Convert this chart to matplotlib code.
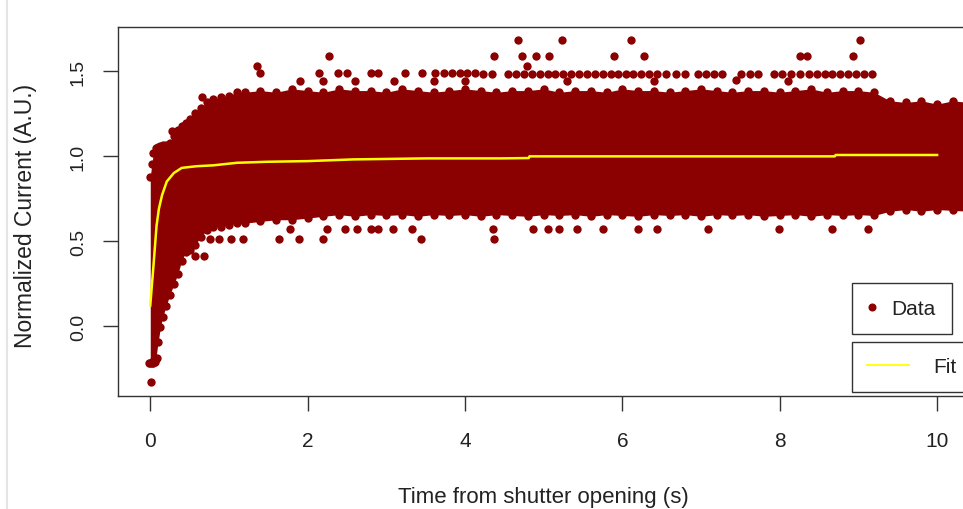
import matplotlib
matplotlib.use("Agg")
import matplotlib.pyplot as plt
from matplotlib.lines import Line2D

plt.rcParams['font.family'] = ['Liberation Sans', 'DejaVu Sans']

# ---------------- data ----------------
# dense band of data points: x, upper-edge point centres, lower-edge point centres
band_x = [0.00, 0.02, 0.04, 0.07, 0.10, 0.13, 0.16, 0.20, 0.25, 0.30, 0.35, 0.40,
          0.45, 0.50, 0.57, 0.64, 0.72, 0.80, 0.90, 1.00, 1.10,
          1.2, 1.4, 1.6, 1.8, 2.0, 2.2, 2.4, 2.6, 2.8, 3.0, 3.2, 3.4, 3.6, 3.8,
          4.0, 4.2, 4.4, 4.6, 4.8, 5.0, 5.2, 5.4, 5.6, 5.8, 6.0, 6.2, 6.4, 6.6,
          6.8, 7.0, 7.2, 7.4, 7.6, 7.8, 8.0, 8.2, 8.4, 8.6, 8.8, 9.0, 9.2,
          9.4, 9.6, 9.8, 10.0, 10.2, 10.4]
band_upper = [0.875, 0.955, 1.015, 1.045, 1.055, 1.06, 1.065, 1.065, 1.075, 1.115, 1.155, 1.175,
              1.195, 1.215, 1.255, 1.285, 1.315, 1.335, 1.345, 1.355, 1.375,
              1.375, 1.385, 1.375, 1.395, 1.385, 1.375, 1.395, 1.385, 1.385, 1.375, 1.395, 1.385, 1.375, 1.385,
              1.395, 1.385, 1.375, 1.385, 1.385, 1.395, 1.375, 1.385, 1.385, 1.375, 1.395, 1.385, 1.385, 1.375,
              1.385, 1.395, 1.385, 1.375, 1.385, 1.385, 1.375, 1.385, 1.395, 1.375, 1.385, 1.385, 1.375,
              1.325, 1.315, 1.325, 1.305, 1.325, 1.315]
band_lower = [-0.215, -0.215, -0.205, -0.195, -0.095, -0.005, 0.055, 0.115, 0.185, 0.245, 0.305, 0.385,
              0.435, 0.445, 0.475, 0.525, 0.565, 0.585, 0.585, 0.595, 0.605,
              0.605, 0.615, 0.625, 0.625, 0.635, 0.645, 0.655, 0.645, 0.655, 0.650, 0.655, 0.645, 0.655, 0.650,
              0.655, 0.645, 0.655, 0.650, 0.645, 0.655, 0.650, 0.655, 0.645, 0.655, 0.650, 0.645, 0.655, 0.650,
              0.655, 0.645, 0.655, 0.650, 0.655, 0.645, 0.650, 0.655, 0.645, 0.655, 0.650, 0.655, 0.650,
              0.675, 0.685, 0.675, 0.685, 0.680, 0.675]

# isolated points outside the dense band
out_x = [0.27, 0.66, 1.36, 1.40, 2.27,
         1.90, 2.20, 2.60, 3.10, 3.60, 4.00, 5.30, 6.40, 7.45, 8.10,
         2.14, 2.39, 2.50, 2.80, 2.90, 3.24, 3.46, 3.62, 3.73, 3.83, 3.94, 4.02, 4.13,
         4.23, 4.34, 4.55, 4.65, 4.75, 4.85, 4.95, 5.05, 5.15, 5.25, 5.35, 5.45,
         5.55, 5.65, 5.75, 5.85, 5.95, 6.05, 6.14, 6.24, 6.34, 6.44, 6.55, 6.68,
         6.80, 6.96, 7.06, 7.16, 7.27, 7.51, 7.62, 7.72, 7.93, 8.03, 8.14, 8.26,
         8.37, 8.47, 8.57, 8.67, 8.77, 8.87, 8.97, 9.07, 9.17,
         4.37, 4.73, 4.90, 5.07, 5.90, 6.27, 8.26, 8.35, 8.93, 4.79,
         4.68, 5.23, 6.11, 9.02,
         0.57, 0.68,
         0.76, 0.87, 1.03, 1.18, 1.63, 1.89, 2.20, 3.44, 4.37,
         1.78, 2.25, 2.48, 2.63, 2.80, 2.90, 3.08, 3.33, 4.36, 4.87, 5.06, 5.20,
         5.43, 5.76, 6.20, 6.44, 7.09, 7.99, 8.67, 9.12,
         0.01, -0.02, 0.03, 0.06, 0.09]
out_y = [1.15, 1.35, 1.53, 1.49, 1.59,
         1.44, 1.44, 1.44, 1.44, 1.44, 1.44, 1.44, 1.44, 1.45, 1.44,
         1.49, 1.49, 1.49, 1.49, 1.49, 1.49, 1.49, 1.49, 1.49, 1.49, 1.49, 1.49, 1.49,
         1.48, 1.48, 1.48, 1.48, 1.48, 1.48, 1.48, 1.48, 1.48, 1.48, 1.48, 1.48,
         1.48, 1.48, 1.48, 1.48, 1.48, 1.48, 1.48, 1.48, 1.48, 1.48, 1.48, 1.48,
         1.48, 1.48, 1.48, 1.48, 1.48, 1.48, 1.48, 1.48, 1.48, 1.48, 1.48, 1.48,
         1.48, 1.48, 1.48, 1.48, 1.48, 1.48, 1.48, 1.48, 1.48,
         1.59, 1.59, 1.59, 1.59, 1.59, 1.59, 1.59, 1.59, 1.59, 1.53,
         1.68, 1.68, 1.68, 1.68,
         0.41, 0.41,
         0.51, 0.51, 0.51, 0.51, 0.51, 0.51, 0.51, 0.51, 0.51,
         0.57, 0.57, 0.57, 0.57, 0.57, 0.57, 0.57, 0.57, 0.57, 0.57, 0.57, 0.57,
         0.57, 0.57, 0.57, 0.57, 0.57, 0.57, 0.57, 0.57,
         -0.33, -0.22, -0.22, -0.21, -0.19]

# fitted curve
fit_x = [0.00, 0.04, 0.08, 0.11, 0.15, 0.21, 0.30, 0.40, 0.59, 0.80, 1.10, 1.48,
         2.00, 2.58, 3.52, 4.45, 4.81, 4.82, 8.70, 8.71, 10.00]
fit_y = [0.12, 0.35, 0.59, 0.69, 0.77, 0.85, 0.90, 0.93, 0.94, 0.945, 0.96, 0.966,
         0.97, 0.98, 0.986, 0.986, 0.988, 0.998, 0.998, 1.006, 1.006]

x_ticks = [0, 2, 4, 6, 8, 10]
x_tick_labels = ['0', '2', '4', '6', '8', '10']
y_ticks = [0.0, 0.5, 1.0, 1.5]
y_tick_labels = ['0.0', '0.5', '1.0', '1.5']

# ---------------- drawing ----------------
W, H = 963, 510
fig = plt.figure(figsize=(W / 100, H / 100), dpi=100)
fig.patch.set_facecolor('white')

ax = fig.add_axes([118 / W, (H - 397) / H, 871 / W, 369 / H])
ax.set_xlim(-0.41, 10.66)
ax.set_ylim(-0.412, 1.759)

red = '#8B0000'
ax.fill_between(band_x, band_lower, band_upper, color=red, lw=0, zorder=2)
ax.scatter(band_x, band_upper, s=36, color=red, lw=0, zorder=2)
ax.scatter(band_x, band_lower, s=36, color=red, lw=0, zorder=2)
ax.scatter(out_x, out_y, s=36, color=red, lw=0, zorder=2)
ax.plot(fit_x, fit_y, color='#FFFF00', lw=1.8, zorder=3, solid_joinstyle='round')

for side in ['top', 'left', 'bottom', 'right']:
    ax.spines[side].set_color('#333333')
    ax.spines[side].set_linewidth(1.0)

ax.set_xticks(x_ticks)
ax.set_xticklabels(x_tick_labels, fontsize=15, color='#222222')
ax.set_yticks(y_ticks)
ax.set_yticklabels(y_tick_labels, fontsize=14, color='#222222', rotation=90,
                   ha='center', va='center')
ax.tick_params(axis='x', direction='out', length=10.5, width=1.0, color='#333333', pad=15)
ax.tick_params(axis='y', direction='out', length=10.5, width=1.0, color='#333333', pad=18)

fig.text(543 / W, (H - 503) / H, 'Time from shutter opening (s)', fontsize=16,
         color='#222222', ha='center', va='baseline')
fig.text(26 / W, (H - 216) / H, 'Normalized Current (A.U.)', fontsize=16.5,
         color='#222222', ha='center', va='center', rotation=90)

# legends (two separate boxes, as in the original)
h_data = Line2D([], [], marker='o', ls='none', color=red, markersize=4.8)
h_fit = Line2D([], [], color='#FFFF00', lw=1.3)
leg1 = ax.legend(handles=[h_data], labels=['Data'], loc='upper left',
                 bbox_to_anchor=(0.8424, 0.3054), bbox_transform=ax.transAxes,
                 borderaxespad=0, fancybox=False, framealpha=1, edgecolor='#333333',
                 fontsize=15, handlelength=0.42, handletextpad=0.75, borderpad=0.75)
leg1.get_frame().set_linewidth(1.0)
for t in leg1.get_texts():
    t.set_color('#222222')
ax.add_artist(leg1)
leg2 = ax.legend(handles=[h_fit], labels=['Fit'], loc='upper left',
                 bbox_to_anchor=(0.8424, 0.1472), bbox_transform=ax.transAxes,
                 borderaxespad=0, fancybox=False, framealpha=1, edgecolor='#333333',
                 fontsize=15, handlelength=2.0, handletextpad=1.16, borderpad=0.75)
leg2.get_frame().set_linewidth(1.0)
for t in leg2.get_texts():
    t.set_color('#222222')

# faint page border at the left
fig.add_artist(Line2D([6.5 / W, 6.5 / W], [0, 1], color='#e4e4e4', lw=1.5,
                      transform=fig.transFigure))

fig.savefig('out.png', dpi=100)
